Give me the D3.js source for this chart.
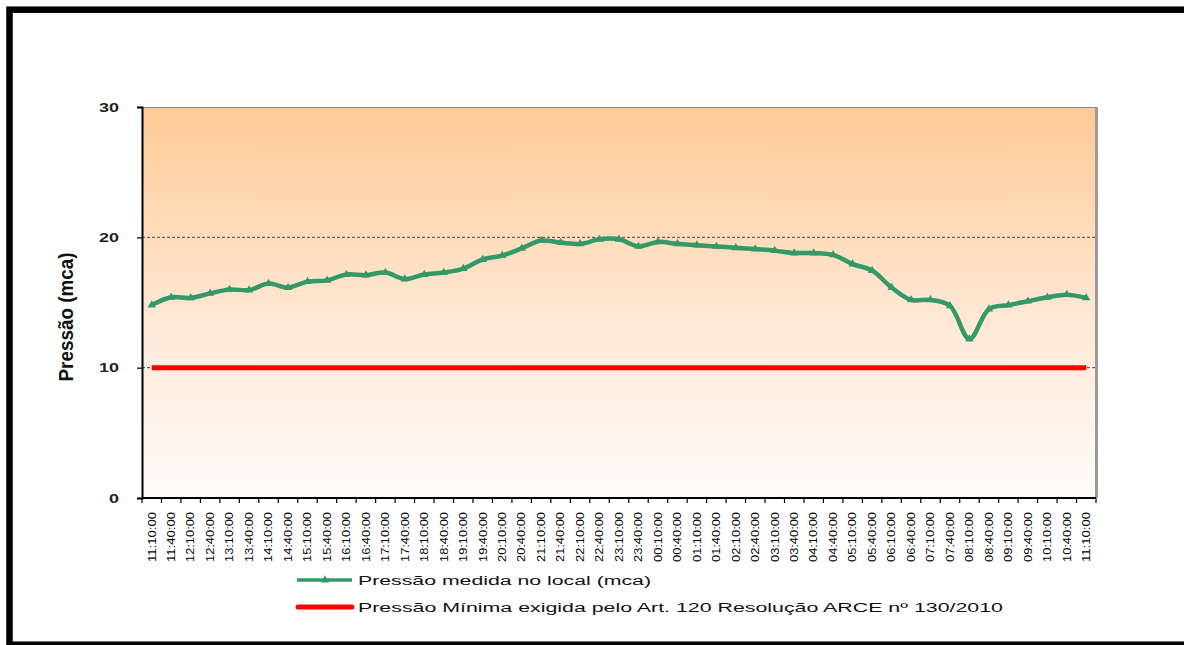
<!DOCTYPE html>
<html>
<head>
<meta charset="utf-8">
<script src="https://cdn.jsdelivr.net/npm/d3@7"></script>
<style>
  html, body { margin: 0; padding: 0; background: #ffffff; }
  svg { display: block; }
  text { font-family: "Liberation Sans", Arial, sans-serif; }
</style>
</head>
<body>
<svg id="chart" width="1184" height="645"></svg>
<script>
const categories = [
  "11:10:00","11:40:00","12:10:00","12:40:00","13:10:00","13:40:00","14:10:00","14:40:00",
  "15:10:00","15:40:00","16:10:00","16:40:00","17:10:00","17:40:00","18:10:00","18:40:00",
  "19:10:00","19:40:00","20:10:00","20:40:00","21:10:00","21:40:00","22:10:00","22:40:00",
  "23:10:00","23:40:00","00:10:00","00:40:00","01:10:00","01:40:00","02:10:00","02:40:00",
  "03:10:00","03:40:00","04:10:00","04:40:00","05:10:00","05:40:00","06:10:00","06:40:00",
  "07:10:00","07:40:00","08:10:00","08:40:00","09:10:00","09:40:00","10:10:00","10:40:00",
  "11:10:00"
];
const pressaoMedida = [
  14.8, 15.4, 15.35, 15.7, 16.0, 15.95, 16.45, 16.15,
  16.6, 16.7, 17.15, 17.1, 17.3, 16.8, 17.15, 17.3,
  17.6, 18.3, 18.6, 19.15, 19.75, 19.6, 19.5, 19.85,
  19.85, 19.3, 19.65, 19.5, 19.4, 19.3, 19.2, 19.1,
  18.98, 18.8, 18.8, 18.65, 17.95, 17.45, 16.15, 15.2,
  15.2, 14.75, 12.2, 14.5, 14.8, 15.1, 15.4, 15.6,
  15.35
];
const pressaoMinima = categories.map(() => 10);
const yTicks = [0, 10, 20, 30];
const gridValues = [10, 20];
const legendLabels = [
  "Pressão medida no local (mca)",
  "Pressão Mínima exigida pelo Art. 120 Resolução ARCE nº 130/2010"
];
const yTitle = "Pressão (mca)";

const svg = d3.select("#chart");
const plot = { left: 142, top: 107, right: 1096, bottom: 498 };

// outer frame
svg.append("rect")
  .attr("x", 9.5).attr("y", 9.7).attr("width", 1220).attr("height", 635)
  .attr("fill", "none").attr("stroke", "#000").attr("stroke-width", 6.5);

// gradient
const defs = svg.append("defs");
const grad = defs.append("linearGradient").attr("id", "bg")
  .attr("x1", 0).attr("y1", 0).attr("x2", 0).attr("y2", 1);
grad.append("stop").attr("offset", "0%").attr("stop-color", "#FFCA96");
grad.append("stop").attr("offset", "55%").attr("stop-color", "#FFE8D6");
grad.append("stop").attr("offset", "100%").attr("stop-color", "#FFFCFA");

const x = d3.scaleBand().domain(d3.range(categories.length))
  .range([plot.left, plot.right]).padding(0);
const y = d3.scaleLinear().domain([0, 30]).range([plot.bottom, plot.top]);
const cx = i => x(i) + x.bandwidth() / 2;

// plot area background
svg.append("rect")
  .attr("x", plot.left).attr("y", plot.top)
  .attr("width", plot.right - plot.left).attr("height", plot.bottom - plot.top)
  .attr("fill", "url(#bg)");

// shadow right border
svg.append("line")
  .attr("x1", plot.right + 0.5).attr("x2", plot.right + 0.5)
  .attr("y1", plot.top).attr("y2", plot.bottom)
  .attr("stroke", "#9a9a9a").attr("stroke-width", 3);
svg.append("line")
  .attr("x1", plot.left).attr("x2", plot.right)
  .attr("y1", plot.top + 0.5).attr("y2", plot.top + 0.5)
  .attr("stroke", "#8a8a8a").attr("stroke-width", 1.2);

// gridlines
svg.append("g").selectAll("line").data(gridValues).join("line")
  .attr("x1", plot.left).attr("x2", plot.right)
  .attr("y1", d => y(d)).attr("y2", d => y(d))
  .attr("stroke", "#333").attr("stroke-width", 0.9)
  .attr("stroke-dasharray", "3,2");

// y axis
const yAxis = d3.axisLeft(y).tickValues(yTicks).tickSize(5).tickFormat(d3.format("d"));
const gy = svg.append("g").attr("transform", `translate(${plot.left},0)`).call(yAxis);
gy.select(".domain").attr("stroke", "#000").attr("stroke-width", 2);
gy.selectAll(".tick line").attr("stroke", "#000").attr("stroke-width", 1.2);
gy.selectAll(".tick text")
  .attr("x", -23)
  .attr("font-size", 13).attr("font-weight", "bold").attr("fill", "#222")
  .attr("textLength", d => String(d).length * 10)
  .attr("lengthAdjust", "spacingAndGlyphs");

// x axis (ticks between categories)
const boundaries = d3.range(categories.length + 1).map(i => plot.left + i * x.bandwidth());
const gx = svg.append("g");
gx.append("line")
  .attr("x1", plot.left).attr("x2", plot.right)
  .attr("y1", plot.bottom).attr("y2", plot.bottom)
  .attr("stroke", "#000").attr("stroke-width", 2);
gx.selectAll("line.tk").data(boundaries).join("line").attr("class", "tk")
  .attr("x1", d => d).attr("x2", d => d)
  .attr("y1", plot.bottom).attr("y2", plot.bottom + 5)
  .attr("stroke", "#000").attr("stroke-width", 1.2);
gx.selectAll("text").data(categories).join("text")
  .attr("transform", (d, i) => `translate(${cx(i) + 3.8},${plot.bottom + 14}) rotate(-90)`)
  .attr("text-anchor", "end")
  .attr("font-size", 11).attr("fill", "#000")
  .attr("textLength", 50).attr("lengthAdjust", "spacingAndGlyphs")
  .text(d => d);

// y title
svg.append("text")
  .attr("transform", `translate(73,317) rotate(-90)`)
  .attr("text-anchor", "middle")
  .attr("font-size", 20).attr("font-weight", "bold").attr("fill", "#111")
  .attr("textLength", 129).attr("lengthAdjust", "spacingAndGlyphs")
  .text(yTitle);

// red minimum line
const redLine = d3.line().x((d, i) => cx(i)).y(d => y(d));
svg.append("path").datum(pressaoMinima)
  .attr("d", redLine)
  .attr("fill", "none").attr("stroke", "#FF0000").attr("stroke-width", 5);

// green measured line
const greenColor = "#339966";
const greenLine = d3.line().x((d, i) => cx(i)).y(d => y(d)).curve(d3.curveCatmullRom.alpha(0.5));
svg.append("path").datum(pressaoMedida)
  .attr("d", greenLine)
  .attr("fill", "none").attr("stroke", greenColor).attr("stroke-width", 4.5)
  .attr("stroke-linejoin", "round");
const tri = d3.symbol().type(d3.symbolTriangle).size(30);
svg.append("g").selectAll("path").data(pressaoMedida).join("path")
  .attr("transform", (d, i) => `translate(${cx(i)},${y(d)})`)
  .attr("d", tri).attr("fill", greenColor);

// legend
const lg = svg.append("g");
lg.append("line").attr("x1", 297).attr("x2", 352).attr("y1", 580).attr("y2", 580)
  .attr("stroke", greenColor).attr("stroke-width", 3.5);
lg.append("path").attr("transform", "translate(325,580)").attr("d", tri).attr("fill", greenColor);
lg.append("line").attr("x1", 298).attr("x2", 352).attr("y1", 607).attr("y2", 607)
  .attr("stroke", "#FF0000").attr("stroke-width", 5).attr("stroke-linecap", "round");
lg.append("text").attr("x", 358).attr("y", 584.5)
  .attr("font-size", 12).attr("fill", "#111")
  .attr("textLength", 293).attr("lengthAdjust", "spacingAndGlyphs")
  .text(legendLabels[0]);
lg.append("text").attr("x", 358).attr("y", 611.5)
  .attr("font-size", 12).attr("fill", "#111")
  .attr("textLength", 645).attr("lengthAdjust", "spacingAndGlyphs")
  .text(legendLabels[1]);
</script>
</body>
</html>
